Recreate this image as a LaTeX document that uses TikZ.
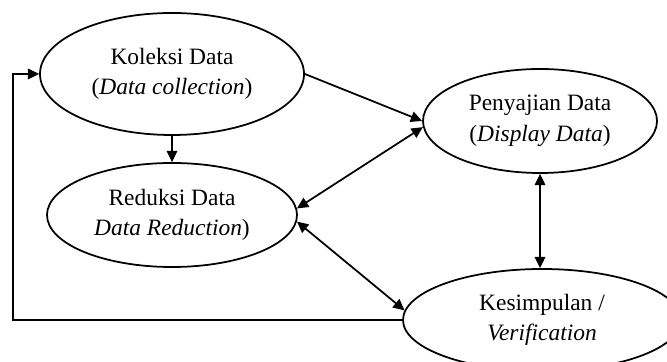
\documentclass[tikz,border=0pt]{standalone}
\usepackage{fontspec}
\setmainfont{Liberation Serif}
\usetikzlibrary{shapes.geometric,arrows.meta,positioning,calc}

\begin{document}
\begin{tikzpicture}[x=0.015cm, y=-0.015cm,
    stage/.style={draw, ellipse, line width=0.75pt, inner sep=0pt, align=center, font=\fontsize{10}{13}\selectfont},
    flow/.style={line width=0.75pt, -{Triangle[length=1.7mm,width=1.6mm]}},
    dflow/.style={line width=0.75pt, {Triangle[length=1.7mm,width=1.6mm]}-{Triangle[length=1.7mm,width=1.6mm]}}]
    \useasboundingbox (0,0) rectangle (667,362);
    \clip (0,0) rectangle (667,362);

    % Four stages, sizes read off the ellipses
    \node[stage, minimum width=3.96cm, minimum height=1.83cm] (koleksi) at (172,74) {Koleksi Data\\(\textit{Data collection})};
    \node[stage, minimum width=3.75cm, minimum height=1.56cm] (reduksi) at (172,215) {Reduksi Data\\\textit{Data Reduction})};
    \node[stage, minimum width=3.51cm, minimum height=1.56cm] (penyajian) at (540,121) {Penyajian Data\\(\textit{Display Data})};
    \node[stage, minimum width=4.17cm, minimum height=1.53cm] (kesimpulan) at (542,320) {Kesimpulan /\\\textit{Verification}};

    % Corner of the feedback loop
    \coordinate (loop) at (13,320);

    % Connectors
    \draw[flow] (koleksi.south) -- (reduksi.north);
    \draw[flow] (koleksi.east) -- (penyajian.west);
    \draw[dflow] (reduksi.3) -- (penyajian.183);
    \draw[dflow] (reduksi.-3) -- (kesimpulan.176);
    \draw[dflow] (penyajian.south) -- (penyajian.south |- kesimpulan.north);
    \draw[flow] (kesimpulan.west) -- (loop) |- (koleksi.west);
\end{tikzpicture}
\end{document}
